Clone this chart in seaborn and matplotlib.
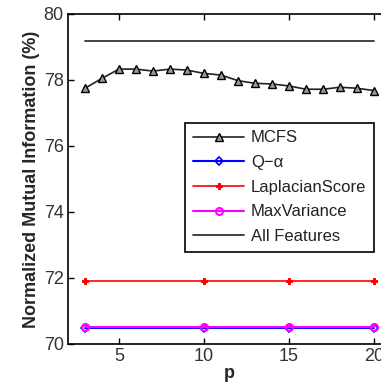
import matplotlib
matplotlib.use("Agg")
import matplotlib.pyplot as plt
import seaborn as sns
import pandas as pd

sns.set_theme(style="ticks")
plt.rcParams['font.family'] = ['Liberation Sans', 'DejaVu Sans']

p_mcfs = [3, 4, 5, 6, 7, 8, 9, 10, 11, 12, 13, 14, 15, 16, 17, 18, 19, 20]
mcfs = [77.75, 78.05, 78.33, 78.33, 78.27, 78.33, 78.3, 78.2, 78.15, 77.98,
        77.9, 77.88, 77.82, 77.72, 77.72, 77.78, 77.75, 77.68]
p_other = [3, 10, 15, 20]
q_alpha = [70.5, 70.5, 70.5, 70.5]
laplacian = [71.92, 71.92, 71.92, 71.92]
maxvar = [70.52, 70.52, 70.52, 70.52]
p_all = [3, 20]
all_features = [79.19, 79.19]

fig = plt.figure(figsize=(3.81, 3.89), dpi=100)
ax = fig.add_axes([68 / 381, 1 - 344 / 389, 323 / 381, 330 / 389])

sns.lineplot(x=p_mcfs, y=mcfs, ax=ax, color='#222222', marker='^', markersize=5.5,
             markerfacecolor='#9a9a9a', markeredgecolor='black', markeredgewidth=1,
             linewidth=1.2, label='MCFS')
sns.lineplot(x=p_other, y=q_alpha, ax=ax, color='blue', marker='D', markersize=4,
             markerfacecolor='none', markeredgecolor='blue', markeredgewidth=1.2,
             linewidth=1.5, label='Q\u2212\u03b1')
sns.lineplot(x=p_other, y=laplacian, ax=ax, color='red', marker='P', markersize=5,
             markerfacecolor='red', markeredgecolor='red',
             linewidth=1.2, label='LaplacianScore')
sns.lineplot(x=p_other, y=maxvar, ax=ax, color='magenta', marker='o', markersize=5,
             markerfacecolor='none', markeredgecolor='magenta', markeredgewidth=1.5,
             linewidth=1.5, label='MaxVariance')
sns.lineplot(x=p_all, y=all_features, ax=ax, color='#222222', linewidth=1.2,
             label='All Features')

ax.set_xlim(2, 21)
ax.set_ylim(70, 80)
ax.set_xticks([5, 10, 15, 20])
ax.set_yticks([70, 72, 74, 76, 78, 80])
ax.tick_params(direction='in', length=4, width=1, labelsize=13, colors='black',
               labelcolor='#333333', top=True, right=True, pad=3)
for s in ax.spines.values():
    s.set_linewidth(1.2)
    s.set_color('black')

ax.set_xlabel('p', fontsize=13, fontweight='bold', labelpad=0)
ax.set_ylabel('Normalized Mutual Information (%)', fontsize=13, fontweight='bold', labelpad=3)

leg = ax.legend(loc='upper right', bbox_to_anchor=(0.947, 0.67), fontsize=12,
                frameon=True, fancybox=False, edgecolor='black', framealpha=1,
                handlelength=3.1, borderpad=0.45, labelspacing=0.58, handletextpad=0.4,
                borderaxespad=0)
leg.get_frame().set_linewidth(1.2)
for t in leg.get_texts():
    t.set_color('#222222')

fig.savefig('out.png', dpi=100)
